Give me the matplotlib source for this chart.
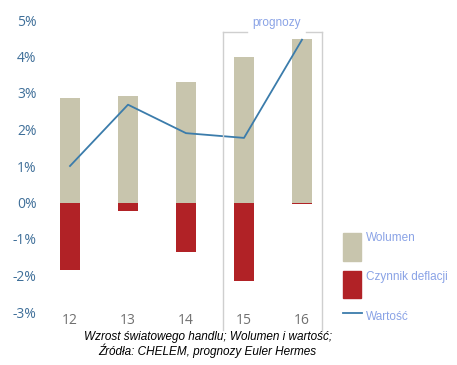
import matplotlib.pyplot as plt
from matplotlib.patches import Rectangle
from matplotlib.lines import Line2D

years = [12, 13, 14, 15, 16]
year_labels = ["12", "13", "14", "15", "16"]
wolumen = [2.87, 2.92, 3.3, 4.0, 4.48]
deflacja = [-1.85, -0.22, -1.35, -2.15, -0.03]
wartosc = [1.0, 2.68, 1.9, 1.77, 4.46]
legend_labels = ["Wolumen", "Czynnik deflacji", "Wartość"]

C_VOL = "#c8c5ad"
C_DEF = "#b12226"
C_LINE = "#3b7cab"
C_TXT = "#8aa3e6"

W, H = 457, 365
fig = plt.figure(figsize=(W / 100, H / 100), dpi=100)


def fx(px):
    return px / W


def fy(py):
    return 1 - py / H


# axes placed in pixel terms
left, right, top, bottom = 45, 330, 20, 312
ax = fig.add_axes([fx(left), fy(bottom), (right - left) / W, (bottom - top) / H])
ax.set_xlim(12 - 25 / 58, 16 + 28 / 58)
ax.set_ylim(-3, 5)

ax.bar(years, wolumen, width=0.36, color=C_VOL)
ax.bar(years, deflacja, width=0.36, color=C_DEF)
ax.plot(years, wartosc, color=C_LINE, lw=1.3)

for s in ax.spines.values():
    s.set_visible(False)
ax.tick_params(length=0)
ax.set_yticks(range(-3, 6))
ax.set_yticklabels([f"{v}%" for v in range(-3, 6)], color="#3f6f99",
                   fontsize=10, family="Open Sans")
ax.set_xticks(years)
ax.set_xticklabels(year_labels, color="#707070", fontsize=10, family="Open Sans")
ax.tick_params(axis="x", pad=1)
ax.tick_params(axis="y", pad=6)

# forecast box
bx0, bx1 = 14.63, 16.34
by0, by1 = -3.5, 4.68
kw = dict(color="#cfcfcf", lw=1, clip_on=False)
ax.plot([bx0, bx0], [by0, by1], **kw)
ax.plot([bx1, bx1], [by0, by1], **kw)
ax.plot([bx0, 15.05], [by1, by1], **kw)
ax.plot([16.07, bx1], [by1, by1], **kw)
ax.text(15.56, 4.92, "prognozy", color=C_TXT, fontsize=8.5, ha="center",
        va="center", family="Liberation Sans")

# legend drawn by hand
fig.patches.append(Rectangle((fx(343), fy(261)), 18 / W, 28 / H, color=C_VOL,
                             transform=fig.transFigure))
fig.patches.append(Rectangle((fx(343), fy(298)), 18 / W, 27 / H, color=C_DEF,
                             transform=fig.transFigure))
fig.lines.append(Line2D([fx(343), fx(362)], [fy(313), fy(313)], color=C_LINE, lw=1.3,
                        transform=fig.transFigure))
for lab, py in zip(legend_labels, [238, 277, 317]):
    fig.text(fx(366), fy(py), lab, color=C_TXT, fontsize=8.5, ha="left", va="center",
             family="Liberation Sans")

fig.text(fx(208), fy(337), "Wzrost światowego handlu; Wolumen i wartość;",
         ha="center", va="center", fontsize=8.5, style="italic", family="Liberation Sans")
fig.text(fx(207), fy(351), "Źródła: CHELEM, prognozy Euler Hermes",
         ha="center", va="center", fontsize=8.5, style="italic", family="Liberation Sans")

fig.savefig("out.png", dpi=100)
